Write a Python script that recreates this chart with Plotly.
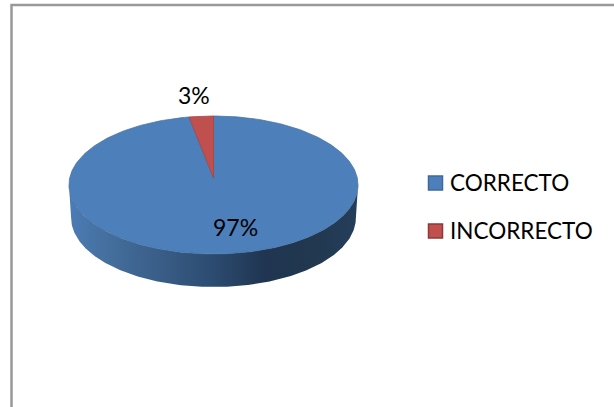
import numpy as np
import plotly.graph_objects as go

categories = ["CORRECTO", "INCORRECTO"]
values = [97, 3]
colors = ["#4d7fbb", "#c0504d"]
edges = ["#45719f", "#a5423f"]
legend_edges = ["#3d6a9e", "#8f3835"]

# projection of the tilted pie onto the page
CX, APEX_Y, R, PERSP, SQUASH = 213.5, 178.0, 143.8, 0.1014, 68.3
DEPTH, BOTTOM_SCALE = 33.0, 0.985
FONT = "Lato"


def project(turn, depth=0.0, scale=1.0):
    """turn: fraction of the pie clockwise from 12 o'clock."""
    a = 2 * np.pi * np.asarray(turn, dtype=float)
    u, v = np.sin(a), np.cos(a)
    w = 1 + PERSP * v
    return CX + scale * R * u / w, APEX_Y - SQUASH * v / w + depth


fig = go.Figure()

# side wall, between the left and right silhouette points of the rim
rim = np.arccos(-PERSP) / (2 * np.pi)
t = np.linspace(rim, 1 - rim, 241)
x_top, y_top = project(t)
x_bot, y_bot = project(t[::-1], DEPTH, BOTTOM_SCALE)
fig.add_trace(go.Scatter(
    x=np.r_[x_top, x_bot], y=np.r_[y_top, y_bot],
    mode="lines", fill="toself", line=dict(color="rgba(0,0,0,0)", width=0),
    fillgradient=dict(
        type="horizontal", start=69, stop=358,
        colorscale=[[0, "#4c7cb6"], [0.12, "#45709f"], [0.3, "#3a5f89"],
                    [0.5, "#2c4b70"], [0.68, "#1f3551"], [0.85, "#21384f"], [1, "#253e5b"]],
    ),
    showlegend=False, hoverinfo="skip",
))

# top face: slices run clockwise from 12 o'clock
total = sum(values)
start = 0.0
for name, val, col, edge in zip(categories, values, colors, edges):
    stop = start + val / total
    tt = np.linspace(start, stop, max(int(360 * val / total), 8))
    ex, ey = project(tt)
    fig.add_trace(go.Scatter(
        x=np.r_[CX, ex, CX], y=np.r_[APEX_Y, ey, APEX_Y],
        mode="lines", fill="toself", fillcolor=col,
        line=dict(color=edge, width=0.75),
        name=name, showlegend=False, hoverinfo="skip",
    ))
    start = stop

# value labels
label_pos = [(235, 227), (194, 95)]
for val, (lx, ly) in zip(values, label_pos):
    fig.add_annotation(x=lx, y=ly, text=f"{val}%", showarrow=False,
                       font=dict(family=FONT, size=23, color="#000000"))

# legend
legend_y = [183, 231]
for name, col, edge, ly in zip(categories, colors, legend_edges, legend_y):
    fig.add_shape(type="rect", x0=428.5, x1=442.5, y0=ly - 7, y1=ly + 7,
                  fillcolor=col, line=dict(color=edge, width=1.5))
    fig.add_annotation(x=448, y=ly - 1, text=name, showarrow=False, xanchor="left",
                       font=dict(family=FONT, size=22.5, color="#000000"))

# chart frame, cut by the page on the right and at the bottom
fig.add_shape(type="rect", x0=11.5, x1=640, y0=5, y1=440,
              line=dict(color="#999999", width=2.5), layer="below")

fig.update_layout(
    width=614, height=407, margin=dict(l=0, r=0, t=0, b=0),
    paper_bgcolor="white", plot_bgcolor="white", showlegend=False,
    xaxis=dict(range=[0, 614], visible=False),
    yaxis=dict(range=[407, 0], visible=False),
)
fig.write_html("out.html", config={"displayModeBar": False},
               post_script='document.body.style.margin="0";')
